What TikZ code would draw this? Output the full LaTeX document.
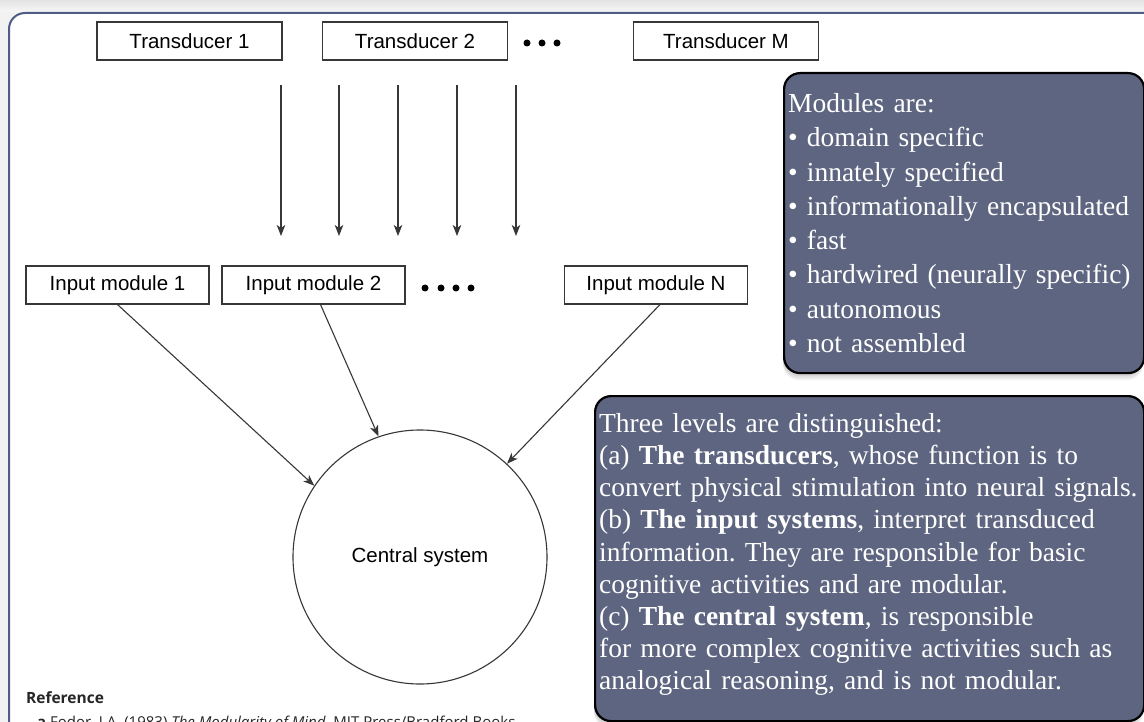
\documentclass[tikz,border=0pt]{standalone}
\usepackage{fontspec}
\setmainfont{Liberation Serif}
\newfontfamily\arialf{Liberation Sans}
\newfontfamily\refsans{Open Sans}
\usetikzlibrary{arrows.meta,calc}
\definecolor{frameblue}{RGB}{78,92,135}
\definecolor{boxfill}{RGB}{93,101,128}
\definecolor{linegray}{RGB}{55,55,55}
\frenchspacing
\begin{document}
\begin{tikzpicture}[x=1pt,y=-1pt,
  tbox/.style={draw=linegray, line width=1.1pt, minimum width=185pt, minimum height=38pt, inner sep=0pt,
    font=\arialf\fontsize{20.5}{24}\selectfont},
  ibox/.style={tbox, minimum width=183pt},
  arr/.style={-{Stealth[length=11pt,width=8.5pt,inset=3pt]}, line width=1.1pt, draw=linegray},
  dotc/.style={fill=black, circle, inner sep=0pt, minimum size=7pt},
  infobox/.style={draw=black, line width=2.2pt, fill=boxfill, rounded corners=16pt, text=white,
    align=left, inner xsep=4pt, anchor=north west},
  shad/.style={fill=black, opacity=0.06, rounded corners=16pt}
]
\useasboundingbox (0,0) rectangle (1144,722);
\clip (0,0) rectangle (1144,722);
% background and frame
\fill[gray!10] (0,0) rectangle (1144,722);
\shade[top color=gray!22, bottom color=gray!6] (0,0) rectangle (1144,12);
\filldraw[fill=white, draw=frameblue, line width=2pt, rounded corners=16pt] (9,13) rectangle (1220,800);

% transducers
\node[tbox] (T1) at (189.5,41) {Transducer 1};
\node[tbox] (T2) at (415,41) {Transducer 2};
\node[tbox] (TM) at (726,41) {Transducer M};
\node[dotc] (td1) at (527,43) {};
\node[dotc] (td2) at (542,43) {};
\node[dotc] (td3) at (557,43) {};

% vertical arrows
\foreach \i/\x in {1/281,2/339,3/398,4/457,5/516}{
  \coordinate (a\i) at (\x,85);
  \coordinate (b\i) at (\x,236);
  \draw[arr] (a\i) -- (b\i);
}

% input modules
\node[ibox] (IM1) at (117.5,285) {Input module 1};
\node[ibox] (IM2) at (313.5,285) {Input module 2};
\node[ibox] (IMN) at (656,285) {Input module N};
\node[dotc] (id1) at (425,288) {};
\node[dotc] (id2) at (441,288) {};
\node[dotc] (id3) at (456,288) {};
\node[dotc] (id4) at (471,288) {};

% central system
\node[draw=linegray, line width=1.1pt, circle, minimum size=254pt, inner sep=0pt,
  font=\arialf\fontsize{20.5}{24}\selectfont] (C) at (420,557) {Central system};

\draw[arr] (IM1.south) -- (C.146);
\draw[arr] ($(IM2.south)+(7,0)$) -- (C.109);
\draw[arr] ($(IMN.south)+(4,0)$) -- (C.47);

% shadows
\foreach \d in {2,4,6,8}{
  \fill[shad] (783,72+\d) rectangle (1143,372+\d);
  \fill[shad] (594,395+\d) rectangle (1143,720+\d);
}

% info boxes
\node[infobox, minimum width=360pt, minimum height=300pt, text width=352pt,
  font=\fontsize{27.5}{34.3}\selectfont] (MOD) at (783,72) {%
Modules are:\\
\textbullet{} domain specific\\
\textbullet{} innately specified\\
\textbullet{} informationally encapsulated\\
\textbullet{} fast\\
\textbullet{} hardwired (neurally specific)\\
\textbullet{} autonomous\\
\textbullet{} not assembled};

\node[infobox, minimum width=549pt, minimum height=325pt, text width=541pt, inner xsep=3pt,
  font=\fontsize{27.5}{32.2}\selectfont] (LEV) at (594,395) {};
\node[anchor=center, text=white, align=left, text width=541pt, inner sep=0pt,
  font=\fontsize{27.5}{32.2}\selectfont] (LEVT) at ($(LEV.center)+(0,-4)$) {%
Three levels are distinguished:\\
(a) \textbf{The transducers}, whose function is to\\
convert physical stimulation into neural signals.\\
(b) \textbf{The input systems}, interpret transduced\\
information. They are responsible for basic\\
cognitive activities and are modular.\\
(c) \textbf{The central system}, is responsible\\
for more complex cognitive activities such as\\
analogical reasoning, and is not modular.};

% reference
\node[anchor=base west, inner sep=0pt, font=\refsans\bfseries\fontsize{15.5}{18}\selectfont, text=black!85] (REF) at (26,703) {Reference};
\node[anchor=base west, inner sep=0pt, font=\refsans\fontsize{15}{18}\selectfont, text=black!85] (REF2) at (37,727)
  {\textbf{a} Fodor, J.A. (1983) \textit{The Modularity of Mind}. MIT Press/Bradford Books};
\end{tikzpicture}
\end{document}
